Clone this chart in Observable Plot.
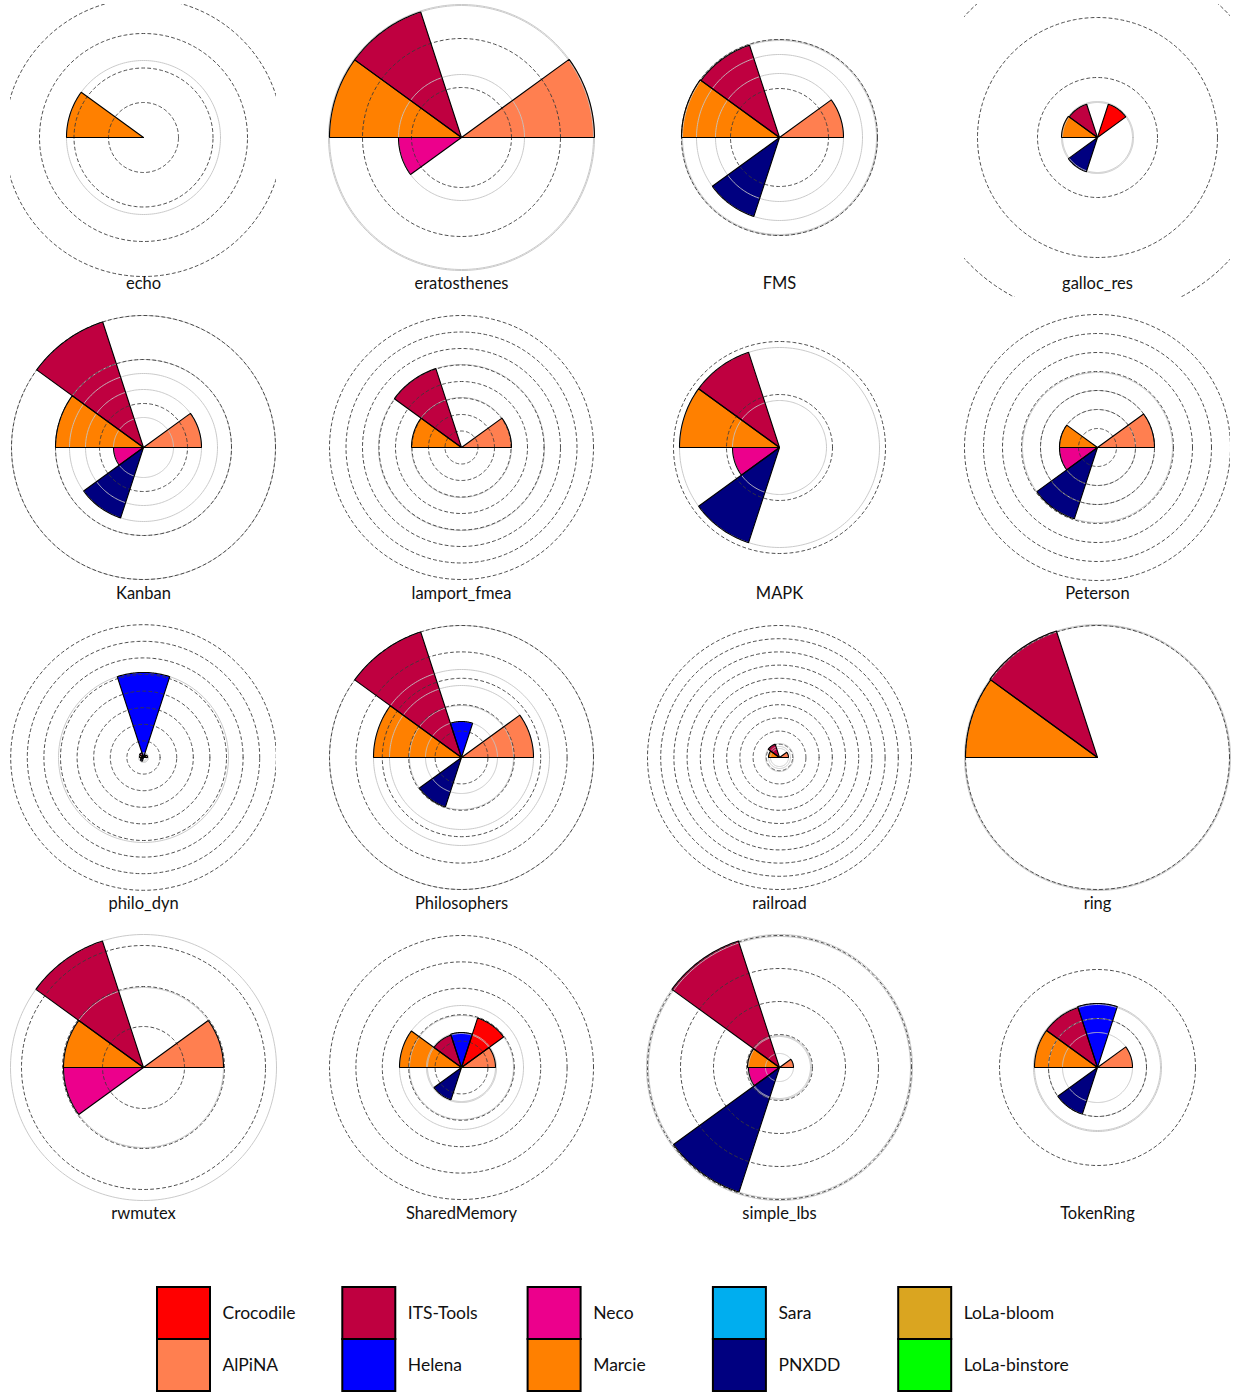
<!DOCTYPE html>
<html><head><meta charset="utf-8">
<script src="https://cdn.jsdelivr.net/npm/d3@7"></script>
<script src="https://cdn.jsdelivr.net/npm/@observablehq/plot@0.6"></script>
<style>
body{margin:0;background:#fff;}
#chart{position:relative;width:1234px;height:1393px;font-family:Lato,"DejaVu Sans",sans-serif;overflow:hidden;background:#fff;}
.panel{position:absolute;overflow:visible;}
</style></head><body><div id="chart"></div>
<script>
// ---- data ----
const models = ["echo","eratosthenes","FMS","galloc_res","Kanban","lamport_fmea","MAPK","Peterson",
  "philo_dyn","Philosophers","railroad","ring","rwmutex","SharedMemory","simple_lbs","TokenRing"];
// sector order, counter-clockwise from east (36° each)
const sectorTools = ["AlPiNA","Crocodile","Helena","ITS-Tools","Marcie","Neco","PNXDD","Sara","LoLa-bloom","LoLa-binstore"];
// radial values per tool, one per model (0 = no sector)
const AlPiNA      = [0,133,64,0,58,50,0,57,4,72,9,0,80,34,14,35];
const Crocodile   = [0,0,0,35,0,0,0,0,3,0,0,0,0,52,0,0];
const Helena      = [0,0,0,0,0,0,0,0,85,36,0,0,0,35,0,64];
const ITSTools    = [0,132,97,35,132,83,100,0,5,132,14,133,133,34,133,63];
const Marcie      = [77,132,98,36,88,50,100,38,4,88,11,132,80,62,32,63];
const Neco        = [0,63,0,0,30,0,47,38,3,0,0,0,80,0,31,0];
const PNXDD       = [0,0,83,36,74,0,100,75,4,52,0,0,0,34,131,49];
const Sara        = [0,0,0,0,0,0,0,0,0,0,0,0,0,0,0,0];
const LoLaBloom   = [0,0,0,0,0,0,0,0,0,0,0,0,0,0,0,0];
const LoLaBinstore= [0,0,0,0,0,0,0,0,0,0,0,0,0,0,0,0];
// dashed reference rings per model (radial units)
const rings = [
  [35,69.5,104,139],
  [50,99],
  [49,98],
  [60,120,180],
  [44,88,132],
  [16.5,33,49.5,66,82.5,99,115.5,132],
  [53,106],
  [19,38,57,76,95,114,133],
  [16.6,33.2,49.8,66.4,83,99.6,116.2,132.8],
  [26.4,52.8,79.2,105.6,132],
  [13.2,26.4,39.6,52.8,66,79.2,92.4,105.6,118.8,132],
  [132],
  [41,81,122],
  [26.4,52.8,79.2,105.6,132],
  [33,66,99,132],
  [49,98]
];
// legend
const legendTools  = ["Crocodile","ITS-Tools","Neco","Sara","LoLa-bloom","AlPiNA","Helena","Marcie","PNXDD","LoLa-binstore"];
const toolColors = {
  "Crocodile":"#ff0000","AlPiNA":"#ff7f50","ITS-Tools":"#bf0040","Helena":"#0000ff",
  "Neco":"#ec008c","Marcie":"#ff8000","Sara":"#00aeef","PNXDD":"#000080",
  "LoLa-bloom":"#daa520","LoLa-binstore":"#00ff00"
};
const toolValues = {"AlPiNA":AlPiNA,"Crocodile":Crocodile,"Helena":Helena,"ITS-Tools":ITSTools,
  "Marcie":Marcie,"Neco":Neco,"PNXDD":PNXDD,"Sara":Sara,"LoLa-bloom":LoLaBloom,"LoLa-binstore":LoLaBinstore};

// ---- layout ----
const colX = [143,461,779,1097], rowY = [137,447,757,1067];
const HALF_W = 133, TOP = 133, BOTTOM = 160, PAD = 17;
const chart = document.getElementById("chart");
const colorScale = {domain: sectorTools, range: sectorTools.map(t => toolColors[t])};

function sectorPolys(mi) {
  const pts = [];
  sectorTools.forEach((tool, k) => {
    const r = toolValues[tool][mi];
    if (!r) return;
    const a1 = k * 36, a2 = (k + 1) * 36;
    pts.push({tool, x: 0, y: 0});
    for (let s = 0; s <= 30; ++s) {
      const a = (a1 + (a2 - a1) * s / 30) * Math.PI / 180;
      pts.push({tool, x: r * Math.cos(a), y: r * Math.sin(a)});
    }
    pts.push({tool, x: 0, y: 0});
  });
  return pts;
}
function circlePts(radii, tag) {
  const pts = [];
  radii.forEach((r, i) => {
    for (let s = 0; s <= 240; ++s) {
      const a = s / 240 * 2 * Math.PI;
      pts.push({id: tag + i, x: r * Math.cos(a), y: r * Math.sin(a)});
    }
  });
  return pts;
}

models.forEach((name, mi) => {
  const values = sectorTools.map(t => toolValues[t][mi]).filter(v => v > 0);
  const greyRadii = Array.from(new Set(values));
  const sec = sectorPolys(mi);
  const svg = Plot.plot({
    width: 2 * HALF_W + 2 * PAD, height: TOP + BOTTOM + PAD,
    marginLeft: PAD, marginRight: PAD, marginTop: PAD, marginBottom: 0,
    x: {domain: [-HALF_W, HALF_W], axis: null},
    y: {domain: [-BOTTOM, TOP], axis: null},
    color: colorScale,
    style: {background: "transparent", overflow: "visible"},
    marks: [
      Plot.line(sec, {x: "x", y: "y", z: "tool", fill: "tool", stroke: null, curve: "linear"}),
      Plot.line(circlePts(greyRadii, "g"), {x: "x", y: "y", z: "id", stroke: "#c4c4c4", strokeWidth: 0.9}),
      Plot.line(circlePts(rings[mi], "d"), {x: "x", y: "y", z: "id", stroke: "#3a3a3a", strokeWidth: 0.9, strokeDasharray: "3,3", clip: true}),
      Plot.line(sec, {x: "x", y: "y", z: "tool", fill: "none", stroke: "black", strokeWidth: 1.1, strokeLinejoin: "miter"}),
      Plot.text([name], {text: d => d, frameAnchor: "bottom", lineAnchor: "middle", dy: -(BOTTOM - 146),
        fontSize: 16.5, fill: "#111", fontFamily: "Lato, sans-serif"})
    ]
  });
  svg.classList.add("panel");
  svg.style.left = (colX[mi % 4] - HALF_W - PAD) + "px";
  svg.style.top = (rowY[Math.floor(mi / 4)] - TOP - PAD) + "px";
  chart.appendChild(svg);
});

// ---- legend ----
const legendData = legendTools.map((t, i) => ({tool: t, col: i % 5, row: Math.floor(i / 5)}));
const leg = Plot.plot({
  width: 1234, height: 108, marginTop: 2, marginBottom: 2, marginLeft: 157, marginRight: 1234 - 157 - 5 * 185.3,
  x: {domain: [0, 5], axis: null},
  y: {domain: [0, 1], axis: null, padding: 0, type: "band"},
  color: {domain: Object.keys(toolColors), range: Object.values(toolColors)},
  marks: [
    Plot.barX(legendData, {x1: "col", x2: d => d.col + 0.286, y: "row", fill: "tool", stroke: "black", strokeWidth: 2, inset: 0}),
    Plot.text(legendData, {x: d => d.col + 0.351, y: "row", text: "tool", textAnchor: "start", fontSize: 17.5, fill: "#111", fontFamily: "Lato, sans-serif"})
  ]
});
leg.classList.add("panel");
leg.style.left = "0px"; leg.style.top = "1285px";
chart.appendChild(leg);
</script></body></html>
